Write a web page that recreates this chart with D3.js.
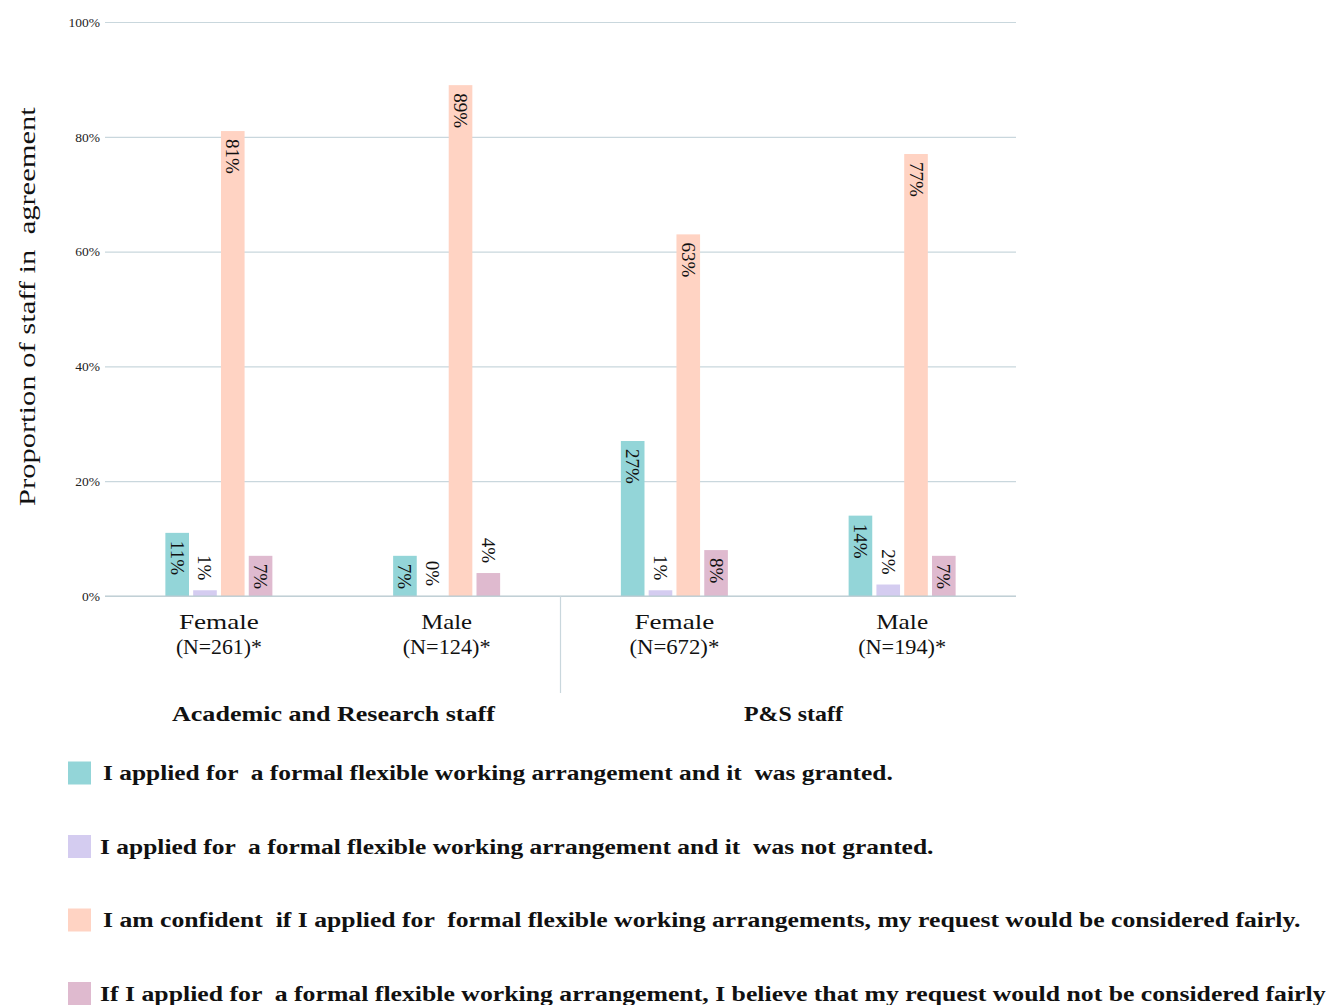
<!DOCTYPE html>
<html>
<head>
<meta charset="utf-8">
<script src="https://cdn.jsdelivr.net/npm/d3@7"></script>
<style>
  html, body { margin: 0; padding: 0; background: #fff; }
  svg { display: block; font-family: "Liberation Serif", "Times New Roman", serif; }
</style>
</head>
<body>
<svg id="chart" width="1329" height="1005"></svg>
<script>
// Staff groups along the x axis
const genders = ["Female", "Male", "Female", "Male"];
const counts = ["(N=261)*", "(N=124)*", "(N=672)*", "(N=194)*"];
const staffTypes = ["Academic and Research staff", "P&S staff"];

// Survey statements (series)
const series = [
  "I applied for  a formal flexible working arrangement and it  was granted.",
  "I applied for  a formal flexible working arrangement and it  was not granted.",
  "I am confident  if I applied for  formal flexible working arrangements, my request would be considered fairly.",
  "If I applied for  a formal flexible working arrangement, I believe that my request would not be considered fairly"
];

// Percentages for each statement, one per group
const granted    = [11, 7, 27, 14];
const notGranted = [1, 0, 1, 2];
const confident  = [81, 89, 63, 77];
const notFairly  = [7, 4, 8, 7];

const yTicks = [0, 20, 40, 60, 80, 100];
const colors = ["#93d5d8", "#d4ccf0", "#ffd3c3", "#dfbacf"];

const values = [granted, notGranted, confident, notFairly];

// Set widths for the wide serif labels
const genderWidths = [80, 51, 80, 52];
const countWidths = [86, 88, 90, 88];
const staffWidths = [323, 99];
const legendWidths = [790, 834, 1198, 1226];

const svg = d3.select("#chart");
const plotL = 105, plotR = 1016, plotT = 22, plotB = 596;

// Draw a horizontal label stretched to a given width.
// anchor: "start" (x is left edge) or "middle" (x is centre).
function wideText(parent, str, x, yPos, width, anchor, attrs) {
  const t = parent.append("text").attr("x", 0).attr("y", 0)
    .style("white-space", "pre").text(str);
  Object.entries(attrs).forEach(([k, v]) => t.attr(k, v));
  const natural = t.node().getComputedTextLength();
  const sx = width / natural;
  const left = anchor === "middle" ? x - width / 2 : x;
  t.attr("transform", `translate(${left},${yPos}) scale(${sx},1)`);
  return t;
}

const x0 = d3.scaleBand().domain(d3.range(genders.length)).range([plotL, plotR]).padding(0);
const bw = x0.bandwidth();
const x1 = d3.scaleBand().domain(d3.range(series.length))
  .range([bw / 2 - 53.5, bw / 2 + 53.5]).paddingInner(0.15);
const y = d3.scaleLinear().domain([0, 100]).range([plotB, plotT]);

// Gridlines and tick labels
const yAxis = d3.axisLeft(y).tickValues(yTicks).tickFormat(d => d + "%")
  .tickSize(-(plotR - plotL)).tickPadding(5);
const gy = svg.append("g").attr("transform", `translate(${plotL},0)`).call(yAxis);
gy.select(".domain").remove();
gy.selectAll(".tick line").attr("stroke", "#c9d7dd").attr("stroke-width", 1.2);
gy.selectAll(".tick text").attr("font-size", 13.5).attr("fill", "#222")
  .attr("font-family", "Liberation Serif, serif");

// Y axis title (rotated; stretched along its length)
{
  const t = svg.append("text").attr("x", 0).attr("y", 0)
    .attr("font-size", 24).attr("fill", "#111")
    .style("white-space", "pre")
    .text("Proportion of staff in  agreement");
  const natural = t.node().getComputedTextLength();
  const len = 399;
  t.attr("transform", `translate(35,506) rotate(-90) scale(${len / natural},1)`);
}

// Bars
const gGroups = svg.append("g").selectAll("g").data(genders).join("g")
  .attr("transform", (d, i) => `translate(${x0(i)},0)`);

gGroups.each(function(g, gi) {
  const sel = d3.select(this);
  series.forEach((s, si) => {
    const v = values[si][gi];
    const bx = x1(si);
    const w = x1.bandwidth();
    sel.append("rect")
      .attr("x", bx).attr("width", w)
      .attr("y", y(v)).attr("height", y(0) - y(v))
      .attr("fill", colors[si]);
    const h = y(0) - y(v);
    const inside = h > 34;
    const label = sel.append("text")
      .attr("font-size", 19)
      .attr("fill", "#111")
      .attr("dominant-baseline", "central")
      .text(v + "%");
    if (inside) {
      label.attr("text-anchor", "start")
        .attr("transform", `translate(${bx + w / 2},${y(v) + 8}) rotate(90)`);
    } else {
      label.attr("text-anchor", "end")
        .attr("transform", `translate(${bx + w / 2},${y(v) - 10}) rotate(90)`);
    }
  });
});

// Baseline
svg.append("line").attr("x1", plotL).attr("x2", plotR)
  .attr("y1", plotB).attr("y2", plotB)
  .attr("stroke", "#b9c9d0").attr("stroke-width", 1.2);

// Category labels
genders.forEach((g, i) => {
  const cx = x0(i) + bw / 2;
  wideText(svg, g, cx, 629, genderWidths[i], "middle", { "font-size": 21, fill: "#111" });
  wideText(svg, counts[i], cx, 654, countWidths[i], "middle", { "font-size": 21, fill: "#111" });
});

// Separator between staff types
const mid = x0(2);
svg.append("line").attr("x1", mid).attr("x2", mid)
  .attr("y1", plotB).attr("y2", 693)
  .attr("stroke", "#c9d7dd").attr("stroke-width", 1.2);

// Staff type labels
staffTypes.forEach((s, i) => {
  const cx = i === 0 ? 333.5 : 793.5;
  wideText(svg, s, cx, 721, staffWidths[i], "middle",
    { "font-size": 21, "font-weight": "bold", fill: "#111" });
});

// Legend
const legend = svg.append("g");
series.forEach((s, i) => {
  const ly = 773 + i * 73.5;
  legend.append("rect")
    .attr("x", 68).attr("y", ly - 11.5).attr("width", 23).attr("height", 23)
    .attr("fill", colors[i]);
  wideText(legend, s, i % 2 === 0 ? 103 : 100, ly + 7, legendWidths[i], "start",
    { "font-size": 20.5, "font-weight": "bold", fill: "#111" });
});
</script>
</body>
</html>
